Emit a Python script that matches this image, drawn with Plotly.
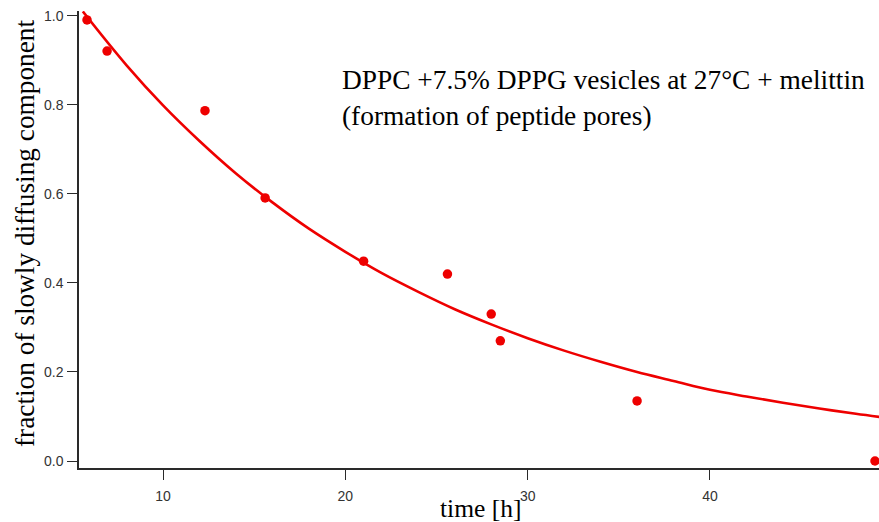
import plotly.graph_objects as go

time_h = [5.83, 6.93, 12.3, 15.6, 21.0, 25.6, 28.0, 28.5, 36.0, 49.05]
fraction = [0.991, 0.921, 0.787, 0.591, 0.449, 0.420, 0.330, 0.270, 0.135, 0.0]

fit_x = [5.6, 8, 10, 12, 14, 16, 18, 20, 22, 24, 26, 28, 30, 32, 34, 36, 38, 40, 42, 44, 46, 48, 49.3]
fit_y = [1.01, 0.889, 0.799, 0.719, 0.646, 0.581, 0.522, 0.470, 0.422, 0.380, 0.341, 0.307,
         0.276, 0.248, 0.223, 0.200, 0.180, 0.160, 0.145, 0.131, 0.118, 0.106, 0.099]

x_ticks = [10, 20, 30, 40]
y_ticks = [0.0, 0.2, 0.4, 0.6, 0.8, 1.0]
y_ticklabels = ["0.0", "0.2", "0.4", "0.6", "0.8", "1.0"]

RED = "#ee0000"
SERIF = "Liberation Serif, Times New Roman, serif"

fig = go.Figure()
fig.add_trace(go.Scatter(x=fit_x, y=fit_y, mode="lines",
                         line=dict(color=RED, width=2.6, shape="spline"),
                         hoverinfo="skip", cliponaxis=False))
fig.add_trace(go.Scatter(x=time_h, y=fraction, mode="markers",
                         marker=dict(color=RED, size=9.5), cliponaxis=False))

axis_common = dict(showgrid=False, zeroline=False, showline=True, linecolor="#2a2a2a",
                   linewidth=1.5, ticks="outside", ticklen=10, tickwidth=1.3,
                   tickcolor="#2a2a2a",
                   tickfont=dict(family="Liberation Sans, Arial", size=14, color="#333333"))

fig.update_layout(
    width=879, height=522,
    margin=dict(l=79, r=0, t=11, b=54),
    paper_bgcolor="white", plot_bgcolor="white",
    showlegend=False,
    xaxis=dict(range=[5.39, 49.27], tickvals=x_ticks, ticklabelstandoff=4, **axis_common),
    yaxis=dict(range=[-0.0157, 1.011], tickvals=y_ticks, ticktext=y_ticklabels,
               ticklabelstandoff=1, **axis_common),
)

pw = 879 - 79 - 0
ph = 522 - 11 - 54


def px_x(px):
    return (px - 79) / pw


def px_y(py):
    return 1 - (py - 11) / ph


fig.add_annotation(text="DPPC +7.5% DPPG vesicles at 27°C + melittin<br>(formation of peptide pores)",
                   x=px_x(340), y=px_y(63), xref="paper", yref="paper", showarrow=False,
                   xanchor="left", yanchor="top", align="left",
                   font=dict(family=SERIF, size=27.4, color="black"))
fig.add_annotation(text="time [h]", x=px_x(480), y=px_y(508), xref="paper", yref="paper",
                   showarrow=False, xanchor="center", yanchor="middle",
                   font=dict(family=SERIF, size=25.5, color="black"))
fig.add_annotation(text="fraction of slowly diffusing component", x=px_x(25), y=px_y(234),
                   xref="paper", yref="paper", showarrow=False, textangle=-90,
                   xanchor="center", yanchor="middle",
                   font=dict(family=SERIF, size=27.3, color="black"))

fig.write_html("out.html")
